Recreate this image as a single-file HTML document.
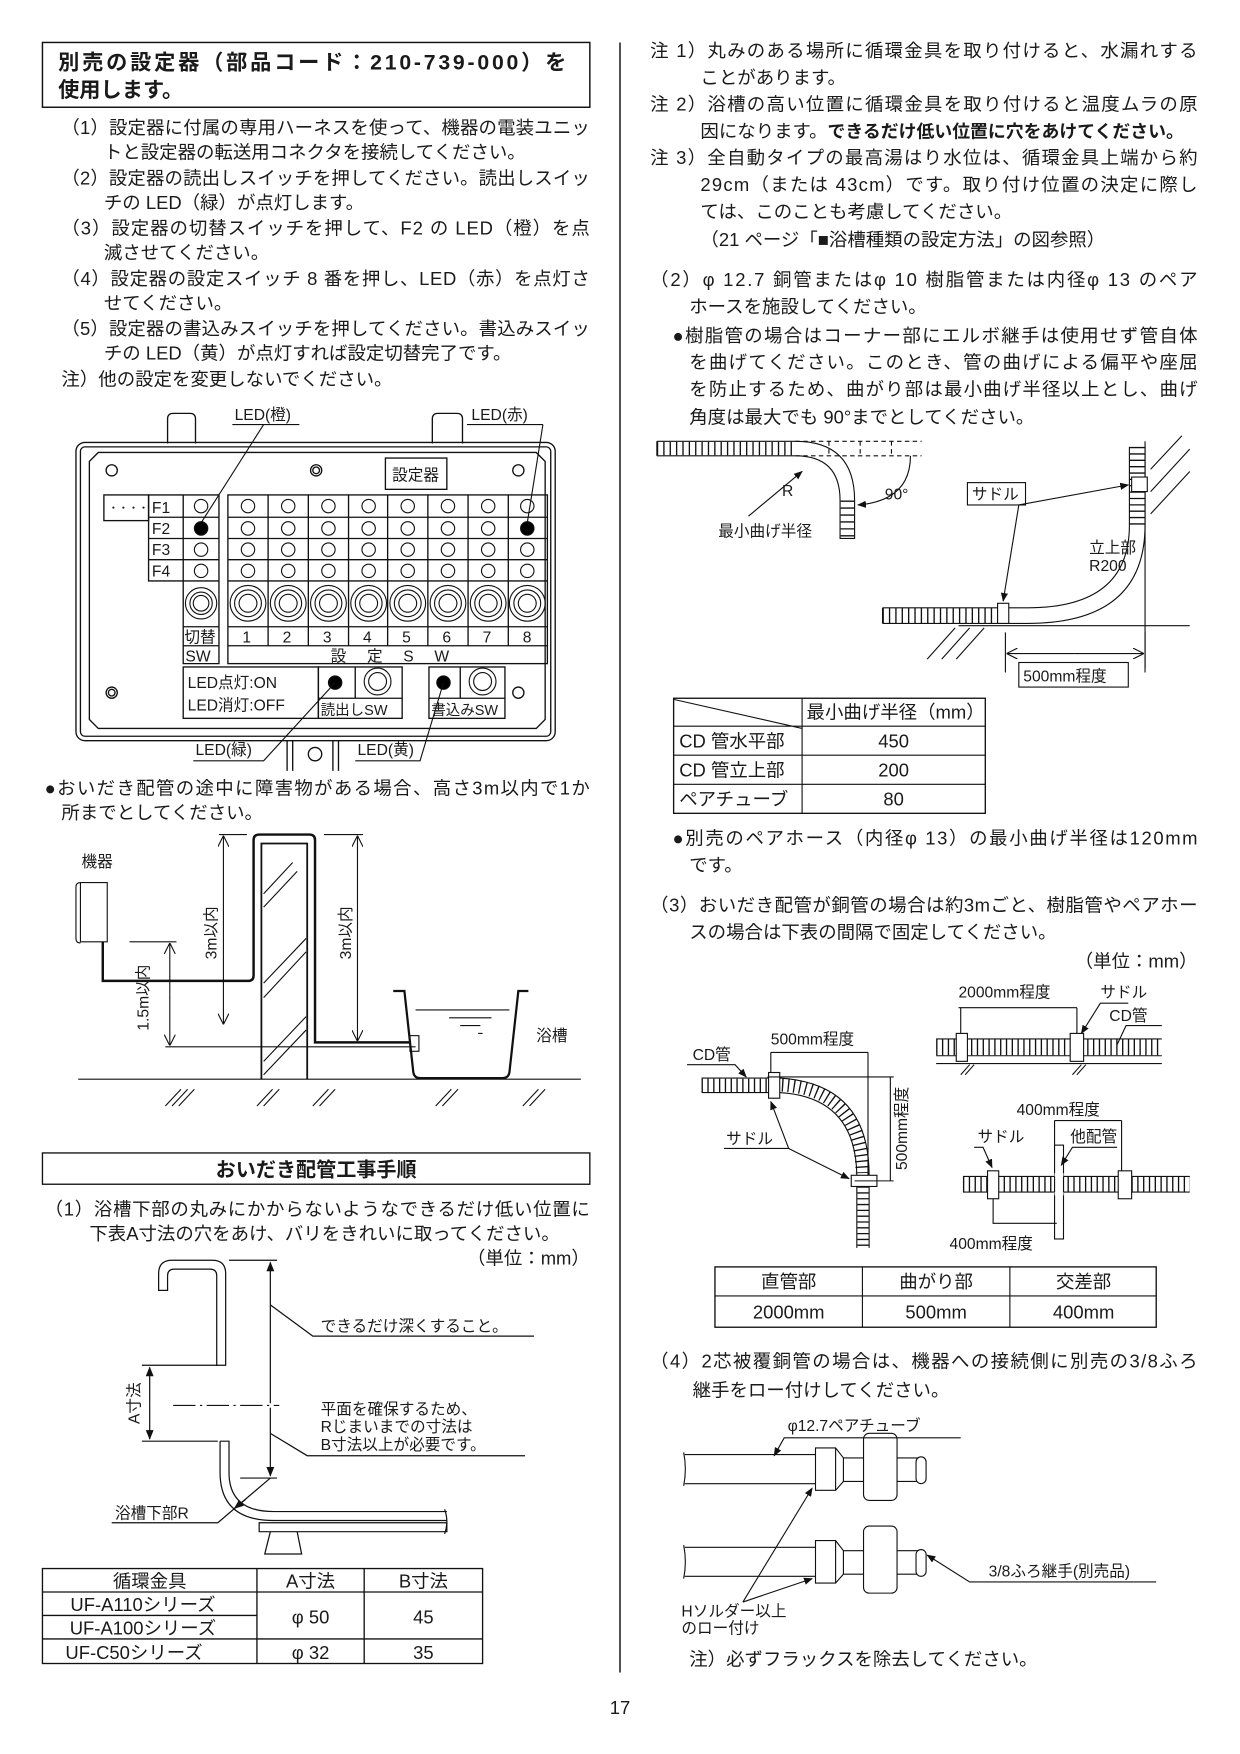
<!DOCTYPE html>
<html><head><meta charset="utf-8"><style>
html,body{margin:0;padding:0;background:#fff}
svg{display:block}
text{font-family:"Liberation Sans","Noto Sans CJK JP",sans-serif;fill:#1a1a1a}
.t{font-size:16.5px}.s{font-size:14px}.b{font-weight:bold}
</style></head><body>
<svg width="1240" height="1754" viewBox="0 0 1110 1570" preserveAspectRatio="none" xmlns="http://www.w3.org/2000/svg">
<defs>
<marker id="a" viewBox="0 0 10 10" refX="9" refY="5" markerWidth="8" markerHeight="8" orient="auto"><path d="M0,1 L10,5 L0,9 z" fill="#111"/></marker>
<marker id="o" viewBox="0 0 10 10" refX="9" refY="5" markerWidth="10" markerHeight="10" orient="auto"><path d="M0,0 L10,5 L0,10" fill="none" stroke="#111"/></marker>
</defs>
<g stroke="#111" fill="none" stroke-width="1">
<rect x="38" y="38" width="490" height="58" stroke-width="1.3"/>
<line x1="555" y1="38" x2="555" y2="1497" stroke-width="1.3"/>
</g>
<text x="52" y="62" font-size="19" class="b" textLength="455">別売の設定器（部品コード：210-739-000）を</text>
<text x="52" y="87" font-size="19" class="b">使用します。</text>

<text x="55" y="120" class="t" textLength="473">（1）設定器に付属の専用ハーネスを使って、機器の電装ユニッ</text>
<text x="93" y="142" class="t">トと設定器の転送用コネクタを接続してください。</text>
<text x="55" y="165" class="t" textLength="473">（2）設定器の読出しスイッチを押してください。読出しスイッ</text>
<text x="93" y="187" class="t">チの LED（緑）が点灯します。</text>
<text x="55" y="210" class="t" textLength="473">（3）設定器の切替スイッチを押して、F2 の LED（橙）を点</text>
<text x="93" y="232" class="t">滅させてください。</text>
<text x="55" y="255" class="t" textLength="473">（4）設定器の設定スイッチ 8 番を押し、LED（赤）を点灯さ</text>
<text x="93" y="277" class="t">せてください。</text>
<text x="55" y="300" class="t" textLength="473">（5）設定器の書込みスイッチを押してください。書込みスイッ</text>
<text x="93" y="322" class="t">チの LED（黄）が点灯すれば設定切替完了です。</text>
<text x="55" y="345" class="t">注）他の設定を変更しないでください。</text>

<!-- device -->
<g stroke="#111" fill="none" stroke-width="1.2">
<path d="M150,397 V375 Q150,370 155,370 H170 Q175,370 175,375 V397"/>
<path d="M387,397 V375 Q387,370 392,370 H409 Q414,370 414,375 V397"/>
<rect x="68" y="396" width="429" height="267" rx="8"/>
<rect x="72" y="400" width="421" height="259" rx="4"/>
<path d="M88,405 H480 L488,413 V644 L480,652 H88 L80,644 V413 Z"/>
<path d="M257,663 V690 M303,663 V690 M262,663 V690 M298,663 V690"/>
<circle cx="282" cy="675" r="6"/>
<circle cx="100" cy="421" r="5"/><circle cx="283" cy="421" r="5"/><circle cx="283" cy="421" r="3"/>
<circle cx="464" cy="421" r="5"/><circle cx="100" cy="620" r="5"/><circle cx="100" cy="620" r="3"/><circle cx="464" cy="620" r="5"/>
<rect x="345" y="410" width="55" height="28"/>
<rect x="93" y="443" width="40" height="23"/>
<path d="M133,443 H196 V594 H164 V443 M133,443 V520 H164 M133,463 H196 M133,482 H196 M133,501 H196 M164,520 H196 M164,561 H196 M164,578 H196"/>
<rect x="204" y="443" width="286" height="151"/>
<path d="M204,463 H490 M204,482 H490 M204,501 H490 M204,520 H490 M204,561 H490 M204,578 H490"/>
<path d="M240,443 V578 M276,443 V578 M312,443 V578 M347,443 V578 M383,443 V578 M419,443 V578 M455,443 V578"/>
<rect x="164" y="597" width="121" height="46"/>
<rect x="285" y="597" width="75" height="46"/>
<path d="M318,597 V625 M285,625 H360"/>
<rect x="384" y="597" width="68" height="46"/>
<path d="M412,597 V625 M384,625 H452"/>
</g>
<g stroke="#111" fill="none" stroke-width="1">
<circle cx="180" cy="453" r="6"/><circle cx="180" cy="492" r="6"/><circle cx="180" cy="511" r="6"/><circle cx="180" cy="540" r="14"/><circle cx="180" cy="540" r="10"/><circle cx="180" cy="540" r="7"/>
<circle cx="180" cy="473" r="6" fill="#000"/>
<g id="c1"><circle cx="222" cy="453" r="6"/><circle cx="222" cy="473" r="6"/><circle cx="222" cy="492" r="6"/><circle cx="222" cy="511" r="6"/><circle cx="222" cy="540" r="16"/><circle cx="222" cy="540" r="12"/><circle cx="222" cy="540" r="8"/></g>
<use href="#c1" x="36"/><use href="#c1" x="72"/><use href="#c1" x="108"/><use href="#c1" x="143"/><use href="#c1" x="179"/><use href="#c1" x="215"/>
<circle cx="472" cy="453" r="6"/><circle cx="472" cy="492" r="6"/><circle cx="472" cy="511" r="6"/><circle cx="472" cy="540" r="16"/><circle cx="472" cy="540" r="12"/><circle cx="472" cy="540" r="8"/>
<circle cx="472" cy="473" r="6" fill="#000"/>
<circle cx="300" cy="611" r="6" fill="#000"/><circle cx="338" cy="610" r="12"/><circle cx="338" cy="610" r="8"/>
<circle cx="397" cy="611" r="6" fill="#000"/><circle cx="432" cy="610" r="12"/><circle cx="432" cy="610" r="8"/>
<path d="M208,380 H268 M236,380 L180,468"/>
<path d="M418,380 H486 M486,380 L472,468"/>
<path d="M173,681 H236 L300,611"/>
<path d="M318,681 H376 L397,611"/>
</g>
<text x="210" y="376" class="s">LED(橙)</text><text x="422" y="376" class="s">LED(赤)</text>
<text x="175" y="676" class="s">LED(緑)</text><text x="320" y="676" class="s">LED(黄)</text>
<text x="351" y="430" class="s">設定器</text>
<text x="97" y="458" font-size="9">・・・・</text>
<text x="136" y="459" class="s">F1</text><text x="136" y="478" class="s">F2</text><text x="136" y="497" class="s">F3</text><text x="136" y="516" class="s">F4</text>
<text x="165" y="575" class="s">切替</text><text x="166" y="592" class="s">SW</text>
<text x="217" y="575" class="s">1</text><text x="253" y="575" class="s">2</text><text x="289" y="575" class="s">3</text><text x="325" y="575" class="s">4</text><text x="360" y="575" class="s">5</text><text x="396" y="575" class="s">6</text><text x="432" y="575" class="s">7</text><text x="468" y="575" class="s">8</text>
<text x="296" y="592" class="s" textLength="106">設 定 S W</text>
<text x="168" y="616" class="s">LED点灯:ON</text><text x="168" y="636" class="s">LED消灯:OFF</text>
<text x="287" y="640" font-size="13">読出しSW</text><text x="386" y="640" font-size="13">書込みSW</text>

<text x="40" y="711" class="t" textLength="488">●おいだき配管の途中に障害物がある場合、高さ3m以内で1か</text>
<text x="55" y="733" class="t">所までとしてください。</text>

<!-- obstacle diagram -->
<g stroke="#111" fill="none" stroke-width="1">
<path d="M72,790 H96 V843 H72 Z M72,790 Q68,790 68,794 V840 Q68,844 72,844"/>
<path d="M92,843 V878 H222 Q227,878 227,873 V752 Q227,747 232,747 H277 Q282,747 282,752 V933 H367" stroke-width="2.2"/>
<path d="M234,966 V755 H275 V966" stroke-width="1.6"/>
<path d="M236,800 L262,772 M236,812 L266,780 M236,880 L274,840 M236,893 L274,852 M236,950 L274,910 M236,962 L274,922"/>
<path d="M196,747 H221 M290,747 H325"/>
<path d="M200,832 V749" marker-end="url(#o)"/><path d="M200,832 V916" marker-end="url(#o)"/>
<path d="M320,840 V749" marker-end="url(#o)"/><path d="M320,840 V931" marker-end="url(#o)"/>
<path d="M116,843 H158"/>
<path d="M152,890 V845" marker-end="url(#o)"/><path d="M152,890 V935" marker-end="url(#o)"/>
<path d="M148,937 H372"/>
<path d="M352,887 H362 L370,960 Q371,965 376,965 H450 Q455,965 456,960 L464,887 H473" stroke-width="2"/>
<path d="M372,904 H456 M402,911 H440 M412,918 H430 M428,925 H432"/>
<rect x="367" y="927" width="8" height="14"/>
<path d="M70,966 H520 M148,990 L162,975 M154,990 L168,975 M160,990 L174,975 M230,990 L244,975 M236,990 L250,975 M280,990 L294,975 M286,990 L300,975 M390,990 L404,975 M396,990 L410,975 M468,990 L482,975 M474,990 L488,975"/>
</g>
<text x="73" y="776" class="s">機器</text>
<text x="480" y="932" class="s">浴槽</text>
<text transform="translate(194,835) rotate(-90)" class="s" text-anchor="middle">3m以内</text>
<text transform="translate(314,835) rotate(-90)" class="s" text-anchor="middle">3m以内</text>
<text transform="translate(133,893) rotate(-90)" class="s" text-anchor="middle">1.5m以内</text>

<!-- section 2 header -->
<rect x="38" y="1032" width="490" height="28" stroke="#111" fill="none" stroke-width="1.2"/>
<text x="283" y="1053" font-size="18" class="b" text-anchor="middle">おいだき配管工事手順</text>
<text x="40" y="1088" class="t" textLength="488">（1）浴槽下部の丸みにかからないようなできるだけ低い位置に</text>
<text x="80" y="1110" class="t">下表A寸法の穴をあけ、バリをきれいに取ってください。</text>
<text x="528" y="1132" class="t" text-anchor="end">（単位：mm）</text>

<g stroke="#111" fill="none" stroke-width="1.1">
<path d="M142,1155 V1140 Q142,1128 154,1128 H190 Q202,1128 202,1140 V1222 H194 V1142 Q194,1136 188,1136 H156 Q150,1136 150,1142 V1155 Z"/>
<path d="M197,1290 H205 V1318 Q205,1353 245,1353 H400 M197,1290 V1318 Q197,1361 245,1361 H400"/>
<path d="M232,1363 H400 V1371 H232 Z M242,1371 L237,1391 H270 L266,1371"/>
<path d="M398,1351 Q402,1362 398,1373"/>
<path d="M205,1128 H248 M215,1323 H248 M127,1222 H195 M127,1290 H195"/>
<path d="M242,1256 V1130" marker-end="url(#a)"/><path d="M242,1260 V1321" marker-end="url(#a)"/>
<path d="M134,1256 V1224" marker-end="url(#a)"/><path d="M134,1256 V1288" marker-end="url(#a)"/>
<path d="M155,1258 H250" stroke-dasharray="20 4 2 4"/>
<path d="M242,1168 L280,1196 H478 M242,1283 L275,1303 H470"/>
<path d="M100,1363 H195 L242,1323"/>
<path d="M220,1342 L210,1350" marker-end="url(#a)"/>
</g>
<text x="287" y="1192" class="s">できるだけ深くすること。</text>
<text x="287" y="1266" class="s">平面を確保するため、</text>
<text x="287" y="1282" class="s">Rじまいまでの寸法は</text>
<text x="287" y="1298" class="s">B寸法以上が必要です。</text>
<text x="103" y="1359" class="s">浴槽下部R</text>
<text transform="translate(125,1256) rotate(-90)" class="s" text-anchor="middle">A寸法</text>

<g stroke="#111" fill="none" stroke-width="1.2">
<rect x="38" y="1404" width="394" height="85"/>
<path d="M38,1425 H432 M38,1446 H230 M38,1467 H432 M230,1404 V1489 M326,1404 V1489"/>
</g>
<text x="134" y="1421" class="t" text-anchor="middle">循環金具</text><text x="278" y="1421" class="t" text-anchor="middle">A寸法</text><text x="379" y="1421" class="t" text-anchor="middle">B寸法</text>
<text x="128" y="1442" class="t" text-anchor="middle">UF-A110シリーズ</text><text x="128" y="1463" class="t" text-anchor="middle">UF-A100シリーズ</text>
<text x="278" y="1453" class="t" text-anchor="middle">φ 50</text><text x="379" y="1453" class="t" text-anchor="middle">45</text>
<text x="120" y="1485" class="t" text-anchor="middle">UF-C50シリーズ</text><text x="278" y="1485" class="t" text-anchor="middle">φ 32</text><text x="379" y="1485" class="t" text-anchor="middle">35</text>
<text x="555" y="1534" class="t" text-anchor="middle">17</text>

<!-- right column -->
<text x="582" y="51" class="t" textLength="490">注 1）丸みのある場所に循環金具を取り付けると、水漏れする</text>
<text x="627" y="75" class="t">ことがあります。</text>
<text x="582" y="99" class="t" textLength="490">注 2）浴槽の高い位置に循環金具を取り付けると温度ムラの原</text>
<text x="627" y="123" class="t">因になります。<tspan class="b" font-size="16">できるだけ低い位置に穴をあけてください。</tspan></text>
<text x="582" y="147" class="t" textLength="490">注 3）全自動タイプの最高湯はり水位は、循環金具上端から約</text>
<text x="627" y="171" class="t" textLength="445">29cm（または 43cm）です。取り付け位置の決定に際し</text>
<text x="627" y="195" class="t">ては、このことも考慮してください。</text>
<text x="627" y="220" class="t">（21 ページ「■浴槽種類の設定方法」の図参照）</text>
<text x="582" y="256" class="t" textLength="490">（2）φ 12.7 銅管またはφ 10 樹脂管または内径φ 13 のペア</text>
<text x="617" y="280" class="t">ホースを施設してください。</text>
<text x="602" y="306" class="t" textLength="470">●樹脂管の場合はコーナー部にエルボ継手は使用せず管自体</text>
<text x="617" y="330" class="t" textLength="455">を曲げてください。このとき、管の曲げによる偏平や座屈</text>
<text x="617" y="354" class="t" textLength="455">を防止するため、曲がり部は最小曲げ半径以上とし、曲げ</text>
<text x="617" y="379" class="t">角度は最大でも 90°までとしてください。</text>

<g stroke="#111" fill="none" stroke-width="1">
<line x1="588" y1="401.5" x2="712" y2="401.5" stroke-width="12" stroke-dasharray="1.2 4.5"/>
<path d="M588,395 H712 M588,408 H712 M588,395 V408"/>
<path d="M712,395 Q765,395 765,448 M712,408 Q752,408 752,448"/>
<line x1="758.5" y1="448" x2="758.5" y2="482" stroke-width="12" stroke-dasharray="1.2 5"/>
<path d="M752,448 V482 H765 V448"/>
<path d="M712,395 H825 M712,408 H825 M742,395 V408 M770,395 V408 M798,395 V408" stroke-dasharray="4 3"/>
<path d="M670,462 L718,422" marker-end="url(#a)"/>
<path d="M815,408 Q815,448 768,452" marker-end="url(#a)"/>
<path d="M1025,395 V598 M1030,420 L1058,390 M1030,440 L1065,402 M1030,460 L1065,422 M858,560 H1065 M830,590 L855,562 M843,590 L868,562 M856,590 L881,562"/>
<line x1="790" y1="551" x2="900" y2="551" stroke-width="14" stroke-dasharray="1.2 4.5"/>
<path d="M790,544 H920 M790,558 H920 M790,544 V558 M920,544 Q1011,544 1011,470 M920,558 Q1025,558 1025,470"/>
<line x1="1018" y1="400" x2="1018" y2="470" stroke-width="14" stroke-dasharray="1.2 4.5"/>
<path d="M1011,400 V470 M1025,400 V470"/>
<rect x="1013" y="427" width="14" height="13" fill="#fff"/>
<rect x="893" y="540" width="10" height="18" fill="#fff"/>
<rect x="866" y="432" width="52" height="20"/>
<path d="M912,452 L1010,434" marker-end="url(#a)"/>
<path d="M912,452 L898,538" marker-end="url(#a)"/>
<path d="M900,566 V602 M1025,566 V602"/>
<path d="M962,585 H902" marker-end="url(#o)"/><path d="M962,585 H1023" marker-end="url(#o)"/>
<rect x="912" y="593" width="98" height="22" fill="#fff"/>
<rect x="603" y="625" width="279" height="103" stroke-width="1.2"/>
<path d="M603,650 H882 M603,676 H882 M603,702 H882 M718,625 V728 M603,626 L718,652"/>
</g>
<text x="700" y="444" class="s">R</text><text x="792" y="447" class="s">90°</text>
<text x="643" y="480" class="s">最小曲げ半径</text>
<text x="870" y="447" class="s">サドル</text>
<text x="975" y="495" class="s">立上部</text><text x="975" y="511" class="s">R200</text>
<text x="916" y="610" class="s">500mm程度</text>
<text x="722" y="643" class="t">最小曲げ半径（mm）</text>
<text x="608" y="669" class="t">CD 管水平部</text><text x="800" y="669" class="t" text-anchor="middle">450</text>
<text x="608" y="695" class="t">CD 管立上部</text><text x="800" y="695" class="t" text-anchor="middle">200</text>
<text x="608" y="721" class="t">ペアチューブ</text><text x="800" y="721" class="t" text-anchor="middle">80</text>

<text x="602" y="756" class="t" textLength="470">●別売のペアホース（内径φ 13）の最小曲げ半径は120mm</text>
<text x="617" y="780" class="t">です。</text>
<text x="582" y="816" class="t" textLength="490">（3）おいだき配管が銅管の場合は約3mごと、樹脂管やペアホー</text>
<text x="617" y="840" class="t">スの場合は下表の間隔で固定してください。</text>
<text x="1072" y="866" class="t" text-anchor="end">（単位：mm）</text>

<g stroke="#111" fill="none" stroke-width="1">
<line x1="628" y1="971.5" x2="690" y2="971.5" stroke-width="12" stroke-dasharray="1.2 4"/>
<path d="M628,965 H690 M628,978 H690"/>
<path d="M698,965 Q778,970 778,1052 M698,978 Q766,982 767,1052" />
<path d="M700,971 Q770,975 772,1050" stroke-width="12" stroke-dasharray="1.2 4"/>
<line x1="772.5" y1="1062" x2="772.5" y2="1117" stroke-width="10" stroke-dasharray="1.2 4"/>
<path d="M767,1062 V1117 M778,1062 V1117"/>
<rect x="688" y="960" width="10" height="23" fill="#fff"/>
<rect x="762" y="1052" width="23" height="10" fill="#fff"/>
<path d="M690,942 H777 M690,942 V960 M777,942 V1052 M687,964 H800 M765,1057 H800 M797,964 V1057"/>
<path d="M615,953 H658 L668,964" marker-end="url(#a)"/>
<path d="M648,1028 H706 L690,986" marker-end="url(#a)"/><path d="M706,1028 L760,1055" marker-end="url(#a)"/>
<line x1="838" y1="937.5" x2="1040" y2="937.5" stroke-width="14" stroke-dasharray="1.2 4"/>
<path d="M838,930 H1040 M838,945 H1040 M838,952 H1040 M858,902 H964 M860,902 V925 M964,902 V925 M860,962 L868,953 M864,962 L872,953 M960,962 L968,953 M964,962 L972,953"/>
<rect x="856" y="925" width="10" height="25" fill="#fff"/><rect x="958" y="925" width="12" height="25" fill="#fff"/>
<path d="M1010,898 H985 L968,925" marker-end="url(#a)"/>
<path d="M1040,918 H1008 L1000,935"/>
<rect x="944" y="1025" width="8" height="84" fill="#fff"/>
<line x1="862" y1="1060" x2="1065" y2="1060" stroke-width="14" stroke-dasharray="1.2 4"/>
<path d="M862,1053 H1065 M862,1067 H1065"/>
<rect x="884" y="1048" width="10" height="25" fill="#fff"/><rect x="1001" y="1048" width="12" height="25" fill="#fff"/>
<rect x="944" y="1050" width="8" height="20" fill="#fff" stroke="none"/>
<path d="M944,1053 V1067 M952,1053 V1067"/>
<path d="M944,1003 H1004 M944,1003 V1025 M1004,1003 V1048 M889,1073 V1095 H946"/>
<path d="M872,1027 H880 L888,1045" marker-end="url(#a)"/>
<path d="M1000,1027 H960 L950,1043" marker-end="url(#a)"/>
<rect x="640" y="1134" width="395" height="54" stroke-width="1.2"/>
<path d="M640,1160 H1035 M772,1134 V1188 M904,1134 V1188"/>
</g>
<text x="620" y="949" class="s">CD管</text>
<text x="690" y="935" class="s">500mm程度</text>
<text transform="translate(812,1010) rotate(-90)" class="s" text-anchor="middle">500mm程度</text>
<text x="650" y="1024" class="s">サドル</text>
<text x="858" y="893" class="s">2000mm程度</text>
<text x="985" y="893" class="s">サドル</text>
<text x="993" y="914" class="s">CD管</text>
<text x="910" y="998" class="s">400mm程度</text>
<text x="875" y="1022" class="s">サドル</text><text x="958" y="1022" class="s">他配管</text>
<text x="850" y="1118" class="s">400mm程度</text>
<text x="706" y="1153" class="t" text-anchor="middle">直管部</text><text x="838" y="1153" class="t" text-anchor="middle">曲がり部</text><text x="970" y="1153" class="t" text-anchor="middle">交差部</text>
<text x="706" y="1180" class="t" text-anchor="middle">2000mm</text><text x="838" y="1180" class="t" text-anchor="middle">500mm</text><text x="970" y="1180" class="t" text-anchor="middle">400mm</text>

<text x="582" y="1224" class="t" textLength="490">（4）2芯被覆銅管の場合は、機器への接続側に別売の3/8ふろ</text>
<text x="620" y="1250" class="t">継手をロー付けしてください。</text>

<g stroke="#111" fill="none" stroke-width="1">
<g id="fl">
<path d="M613,1302 H730 M613,1328 H730 M612,1300 Q615,1315 612,1330"/>
<path d="M730,1296 H748 L755,1305 V1326 L748,1334 H730 Z M748,1296 V1334"/>
<path d="M755,1305 H823 M755,1326 H823"/>
<rect x="773" y="1283" width="30" height="60" rx="5" fill="#fff"/>
<rect x="820" y="1304" width="9" height="24" rx="4.5" fill="#fff"/>
</g>
<use href="#fl" y="83"/>
<path d="M860,1287 H702 L693,1303" marker-end="url(#a)"/>
<path d="M1035,1416 H868 L830,1392" marker-end="url(#a)"/>
<path d="M665,1434 L727,1332" marker-end="url(#a)"/><path d="M665,1434 L727,1413" marker-end="url(#a)"/>
</g>
<text x="705" y="1281" class="s">φ12.7ペアチューブ</text>
<text x="885" y="1411" class="s">3/8ふろ継手(別売品)</text>
<text x="610" y="1447" class="s">Hソルダー以上</text>
<text x="610" y="1462" class="s">のロー付け</text>
<text x="617" y="1491" class="t">注）必ずフラックスを除去してください。</text>
</svg>
</body></html>
